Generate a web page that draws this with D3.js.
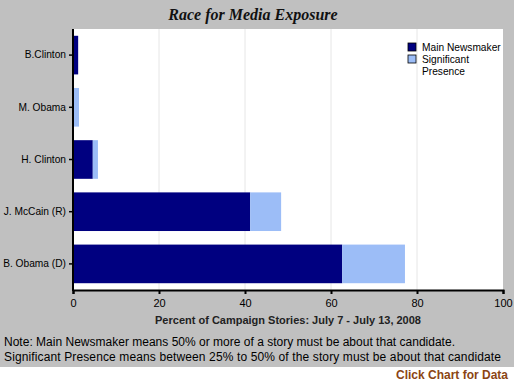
<!DOCTYPE html>
<html><head><meta charset="utf-8">
<script src="https://cdn.jsdelivr.net/npm/d3@7"></script>
<style>body{margin:0;background:#fff}svg{display:block}</style>
</head><body>
<script>
const categories = ["B.Clinton", "M. Obama", "H. Clinton", "J. McCain (R)", "B. Obama (D)"];
const mainNewsmaker = [1.2, 0, 4.6, 41.2, 62.6];
const significantPresence = [0, 1.4, 1.2, 7.2, 14.6];
const xTicks = [0, 20, 40, 60, 80, 100];
const seriesNames = ["Main Newsmaker", "Significant Presence"];
const colors = ["#000080", "#9cbdf7"];

const W = 514, H = 382;
const FONT = "Liberation Sans, Arial, sans-serif";
const svg = d3.select("body").append("svg").attr("width", W).attr("height", H);
svg.append("rect").attr("width", W).attr("height", 367).attr("fill", "#c0c0c0");

const m = {l: 73, r: 503, t: 29, b: 290};
svg.append("rect").attr("x", m.l).attr("y", m.t).attr("width", m.r - m.l).attr("height", m.b - m.t).attr("fill", "#fff");

const x = d3.scaleLinear().domain([0, 100]).range([m.l, m.r]);
const y = d3.scaleBand().domain(categories).range([m.t, m.b]).paddingInner(0.26).paddingOuter(0.13);

// gridlines
svg.append("g").selectAll("line").data(xTicks.slice(1, -1)).join("line")
  .attr("x1", d => x(d)).attr("x2", d => x(d)).attr("y1", m.t).attr("y2", m.b)
  .attr("stroke", "#e6e6e6").attr("stroke-width", 1);

const stackData = categories.map((c, i) => ({cat: c, main: mainNewsmaker[i], sig: significantPresence[i]}));
const stack = d3.stack().keys(["main", "sig"])(stackData);
svg.append("g").selectAll("g").data(stack).join("g").attr("fill", (d, i) => colors[i])
  .selectAll("rect").data(d => d).join("rect")
  .attr("x", d => x(d[0])).attr("width", d => x(d[1]) - x(d[0]))
  .attr("y", d => y(d.data.cat)).attr("height", y.bandwidth());

// x axis
const xa = svg.append("g").attr("transform", `translate(0,${m.b})`)
  .call(d3.axisBottom(x).tickValues(xTicks).tickSize(4).tickPadding(5));
xa.select(".domain").attr("stroke", "#000").attr("stroke-width", 2);
xa.selectAll("line").attr("stroke", "#000").attr("stroke-width", 2);
xa.selectAll("text").attr("font-family", FONT).attr("font-size", 11).attr("fill", "#000");

// y axis
const ya = svg.append("g").attr("transform", `translate(${m.l},0)`)
  .call(d3.axisLeft(y).tickSize(4).tickPadding(3));
ya.select(".domain").attr("stroke", "#000").attr("stroke-width", 2).attr("d", `M0,${m.t}V${m.b + 1}`);
ya.selectAll("line").attr("stroke", "#000").attr("stroke-width", 1.5);
ya.selectAll("text").attr("font-family", FONT).attr("font-size", 10.2).attr("fill", "#000");

// title
svg.append("text").attr("x", 253).attr("y", 20).attr("text-anchor", "middle")
  .attr("font-family", "Liberation Serif, Times New Roman, serif").attr("font-weight", "bold")
  .attr("font-style", "italic").attr("font-size", 16).attr("fill", "#111").text("Race for Media Exposure");

// x axis title
svg.append("text").attr("x", 288).attr("y", 324).attr("text-anchor", "middle")
  .attr("font-family", FONT).attr("font-weight", "bold")
  .attr("font-size", 11).attr("fill", "#222").text("Percent of Campaign Stories: July 7 - July 13, 2008");

// notes
const notes = ["Note: Main Newsmaker means 50% or more of a story must be about that candidate.",
  "Significant Presence means between 25% to 50% of the story must be about that candidate"];
const noteLen = [451, 497];
svg.selectAll(".note").data(notes).join("text").attr("class", "note")
  .attr("x", 4).attr("y", (d, i) => 346 + i * 15)
  .attr("font-family", FONT).attr("font-size", 12).attr("fill", "#000")
  .attr("textLength", (d, i) => noteLen[i]).attr("lengthAdjust", "spacing")
  .text(d => d);

svg.append("text").attr("x", 508).attr("y", 379).attr("text-anchor", "end")
  .attr("font-family", FONT).attr("font-weight", "bold")
  .attr("font-size", 12).attr("fill", "#8b4513").text("Click Chart for Data");

// legend
const lg = svg.append("g").attr("transform", "translate(408,43)");
lg.append("rect").attr("x", 0).attr("y", 0).attr("width", 8).attr("height", 8).attr("fill", colors[0]).attr("stroke", "#000").attr("stroke-width", 0.8);
lg.append("text").attr("x", 14).attr("y", 8).attr("font-family", FONT).attr("font-size", 10.2).text(seriesNames[0]);
lg.append("rect").attr("x", 0).attr("y", 12).attr("width", 8).attr("height", 8).attr("fill", colors[1]).attr("stroke", "#000").attr("stroke-width", 0.8);
lg.append("text").attr("x", 14).attr("y", 20).attr("font-family", FONT).attr("font-size", 10.2).text("Significant");
lg.append("text").attr("x", 14).attr("y", 32).attr("font-family", FONT).attr("font-size", 10.2).text("Presence");
</script>
</body></html>
